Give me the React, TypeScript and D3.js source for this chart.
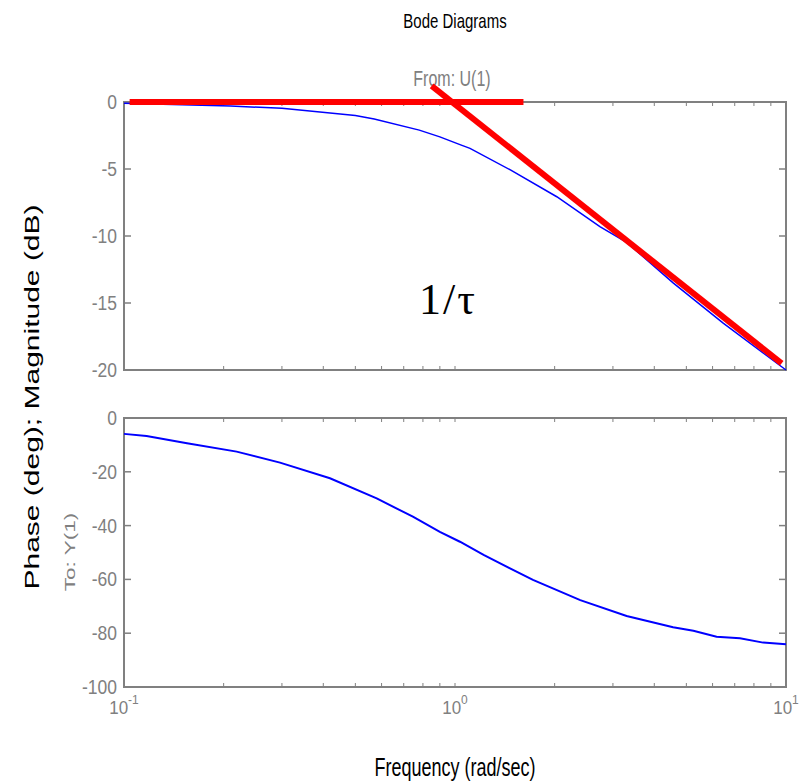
import React from "react";
import * as d3 from "d3";

const W = 800;
const H = 783;
const L = 124;
const R = 786;

// magnitude curve (dB)
const magFreq = [0.1, 0.21, 0.3, 0.5, 0.57, 0.78, 0.9, 1.04, 1.11, 1.47, 2.03, 2.74, 3.31, 4.56, 6.46, 10];
const magDb = [-0.1, -0.3, -0.47, -1.0, -1.27, -2.1, -2.6, -3.2, -3.46, -5.07, -7.07, -9.3, -10.5, -13.5, -16.5, -20];

// phase curve (deg)
const phFreq = [0.1, 0.117, 0.155, 0.219, 0.296, 0.419, 0.58, 0.746, 0.9, 1.035, 1.22, 1.72, 2.39, 3.3, 4.56, 5.25, 6.17, 7.26, 8.53, 10];
const phDeg = [-5.9, -6.7, -9.4, -12.5, -16.6, -22.4, -29.9, -36.7, -42.3, -46, -50.9, -60.2, -67.7, -73.6, -77.8, -79.1, -81.3, -81.9, -83.5, -84.1];

// red asymptotes
const flatAsym = [[0.104, 0], [1.61, 0]];
const slopeAsym = [[0.85, 1.2], [9.7, -19.5]];

const magTicks = [0, -5, -10, -15, -20];
const phTicks = [0, -20, -40, -60, -80, -100];
const decades = [0.1, 1, 10];
const decadeExp = ["-1", "0", "1"];

const gray = "#808080";
const font = "'Liberation Sans', Arial, sans-serif";
const stretch = 1.4; // the figure's text is stretched vertically

const x = d3.scaleLog().domain([0.1, 10]).range([L, R]);
const yMag = d3.scaleLinear().domain([-20, 0]).range([370, 102]);
const yPh = d3.scaleLinear().domain([-100, 0]).range([687, 418]);

const minor: number[] = [];
[0.1, 1].forEach(d => {
  for (let k = 2; k <= 9; k++) minor.push(d * k);
});
minor.push(1);

function Panel({ y, ticks }: { y: d3.ScaleLinear<number, number>; ticks: number[] }) {
  const [y0, y1] = [y.range()[1], y.range()[0]];
  return (
    <g>
      {minor.map((f, i) => (
        <g key={i} stroke={gray} strokeWidth={1}>
          <line x1={x(f)} x2={x(f)} y1={y0} y2={y0 + 4} />
          <line x1={x(f)} x2={x(f)} y1={y1} y2={y1 - 4} />
        </g>
      ))}
      {ticks.map(t => (
        <g key={t}>
          <line x1={L} x2={L + 7} y1={y(t)} y2={y(t)} stroke={gray} strokeWidth={1.5} />
          <line x1={R} x2={R - 7} y1={y(t)} y2={y(t)} stroke={gray} strokeWidth={1.5} />
          <text transform={`translate(117,${y(t)}) scale(1,1.12)`} dy="0.36em" textAnchor="end" fontSize={17.5} fill={gray} fontFamily={font}>
            {t}
          </text>
        </g>
      ))}
      <rect x={L} y={y0} width={R - L} height={y1 - y0} fill="none" stroke={gray} strokeWidth={2} />
    </g>
  );
}

export default function App() {
  const magLine = d3.line<number>().x((_, i) => x(magFreq[i])).y(d => yMag(d));
  const phLine = d3.line<number>().x((_, i) => x(phFreq[i])).y(d => yPh(d));
  const asym = d3.line<number[]>().x(d => x(d[0])).y(d => yMag(d[1]));

  return (
    <svg width={W} height={H} style={{ position: "absolute", left: 0, top: 0, background: "#fff" }}>
      <text transform={`translate(455,28) scale(1,${stretch})`} textAnchor="middle" fontSize={15} fontFamily={font} fill="#000">
        Bode Diagrams
      </text>
      <text transform={`translate(452,86) scale(1,${stretch})`} textAnchor="middle" fontSize={16} fontFamily={font} fill={gray}>
        From: U(1)
      </text>

      <Panel y={yMag} ticks={magTicks} />
      <Panel y={yPh} ticks={phTicks} />

      <path d={magLine(magDb) || ""} fill="none" stroke="#0000ff" strokeWidth={1.5} />
      <path d={phLine(phDeg) || ""} fill="none" stroke="#0000ff" strokeWidth={2} />

      <path d={asym(flatAsym) || ""} fill="none" stroke="#ff0000" strokeWidth={6} />
      <path d={asym(slopeAsym) || ""} fill="none" stroke="#ff0000" strokeWidth={6} />

      <text x={419} y={314} fontSize={44} letterSpacing={2} fontFamily="'Liberation Serif', 'Times New Roman', serif" fill="#000">
        1/τ
      </text>

      {decades.map((d, i) => (
        <text key={d} transform={`translate(${x(d)},714) scale(1,1.12)`} textAnchor="middle" fontSize={17} fontFamily={font} fill={gray}>
          10
          <tspan dy={-9} fontSize={12}>{decadeExp[i]}</tspan>
        </text>
      ))}

      <text transform={`translate(455,776) scale(1,${stretch})`} textAnchor="middle" fontSize={18} fontFamily={font} fill="#000">
        Frequency (rad/sec)
      </text>
      <text transform={`translate(39,397) rotate(-90) scale(1.5,1)`} textAnchor="middle" fontSize={20} fontFamily={font} fill="#000">
        Phase (deg); Magnitude (dB)
      </text>
      <text transform={`translate(75,552) rotate(-90) scale(1.5,1)`} textAnchor="middle" fontSize={15} fontFamily={font} fill={gray}>
        To: Y(1)
      </text>
    </svg>
  );
}
